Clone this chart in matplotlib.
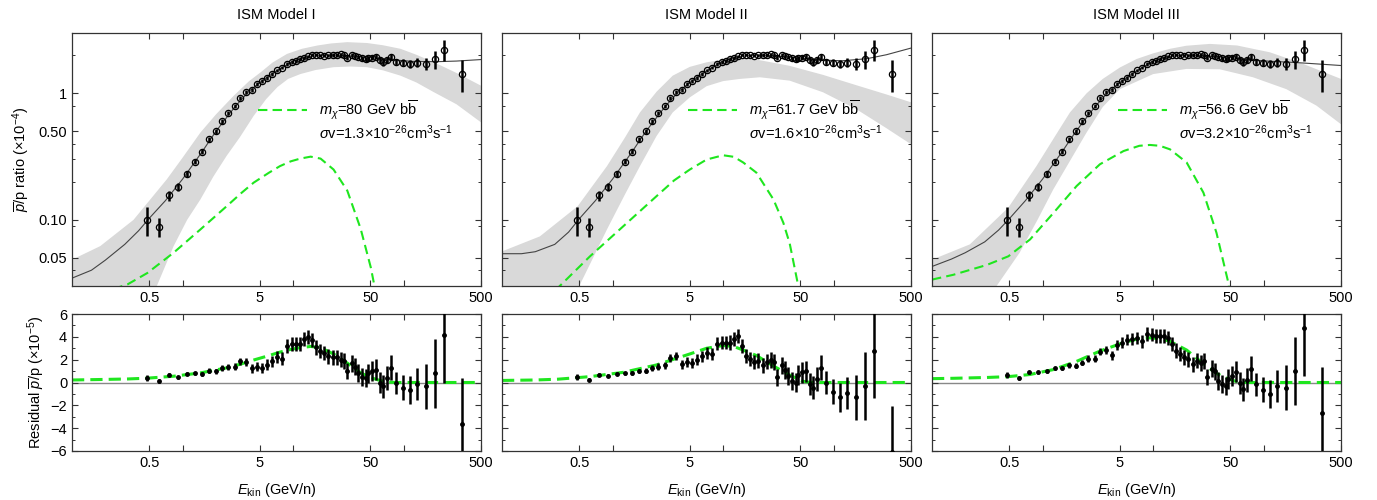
import numpy as np
import matplotlib
matplotlib.use("Agg")
import matplotlib.pyplot as plt
from matplotlib.ticker import NullFormatter, NullLocator

plt.rcParams["font.family"] = "Liberation Sans"
plt.rcParams["mathtext.fontset"] = "custom"
plt.rcParams["mathtext.rm"] = "Liberation Sans"
plt.rcParams["mathtext.it"] = "Liberation Sans:italic"
plt.rcParams["mathtext.bf"] = "Liberation Sans:bold"

# ---- measured antiproton / proton ratio (same data in all panels)
E_data = [0.48, 0.61, 0.75, 0.91, 1.09, 1.29, 1.51, 1.75, 2.0, 2.29, 2.59, 2.96, 3.33, 3.74,
          4.21, 4.74, 5.26, 5.84, 6.48, 7.18, 7.87, 8.73, 9.69, 10.6, 11.5, 12.6, 13.7, 14.9,
          16.1, 17.5, 19.1, 20.8, 22.7, 24.7, 26.9, 28.8, 30.8, 33.8, 36.2, 38.8, 41.6, 45.2,
          47.8, 51.9, 56.1, 60.9, 65.3, 71.0, 76.0, 84.4, 99.1, 114, 133, 159, 190, 231, 338]
ratio_data = [0.100, 0.088, 0.156, 0.181, 0.230, 0.289, 0.346, 0.432, 0.502, 0.60, 0.70, 0.79,
              0.925, 1.025, 1.07, 1.18, 1.25, 1.32, 1.43, 1.52, 1.60, 1.70, 1.77, 1.81, 1.86,
              1.90, 1.96, 2.02, 2.02, 2.0, 1.99, 2.0, 2.01, 2.02, 2.03, 2.01, 1.92, 2.0, 1.99,
              1.93, 1.89, 1.86, 1.90, 1.92, 1.95, 1.84, 1.76, 1.84, 1.94, 1.78, 1.75, 1.72, 1.75,
              1.72, 1.86, 2.21, 1.43]
# errors in units of 1e-5
err_data = [0.26, 0.15, 0.14, 0.13, 0.13, 0.15, 0.17, 0.2, 0.22, 0.25, 0.28, 0.3, 0.33, 0.36,
            0.4, 0.42, 0.45, 0.48, 0.5, 0.52, 0.55, 0.58, 0.6, 0.6, 0.62, 0.62, 0.62, 0.62,
            0.62, 0.64, 0.64, 0.65, 0.65, 0.66, 0.68, 0.7, 0.72, 0.75, 0.75, 0.78, 0.8, 0.82,
            0.85, 0.9, 0.92, 0.95, 1.0, 1.05, 1.1, 1.0, 1.1, 1.25, 1.4, 2.0, 3.0, 4.2, 4.0]

# residuals (x1e-5) for each ISM model
resid_1 = [0.4, 0.15, 0.7, 0.45, 0.75, 0.8, 0.75, 1.05, 1.0, 1.3, 1.35, 1.4, 1.85, 1.8, 1.25,
           1.4, 1.25, 1.55, 1.85, 2.2, 2.1, 3.2, 3.35, 3.35, 3.4, 3.8, 4.0, 3.7, 3.07, 2.77,
           2.6, 2.3, 2.2, 2.2, 2.0, 1.9, 1.0, 1.7, 1.4, 0.8, 0.5, 0.4, 0.8, 1.0, 1.1, 0.0,
           -0.35, 0.4, 1.3, -0.05, -0.45, -0.65, -0.15, -0.35, 0.8, 4.2, -3.6]
resid_2 = [0.45, 0.25, 0.7, 0.6, 0.75, 0.8, 0.8, 1.0, 1.05, 1.25, 1.4, 1.5, 2.15, 2.3, 1.6,
           1.8, 1.7, 2.0, 2.3, 2.6, 2.5, 3.4, 3.5, 3.5, 3.5, 3.8, 4.1, 3.2, 2.35, 2.05, 1.8,
           1.9, 1.5, 1.8, 1.95, 1.8, 0.45, 1.5, 1.1, 0.6, 0.15, 0.0, 0.65, 0.9, 1.0, -0.15,
           -0.45, 0.3, 1.3, 0.0, -0.8, -1.3, -0.95, -1.3, -0.3, 2.8, -6.1]
resid_3 = [0.65, 0.4, 0.9, 0.9, 1.0, 1.25, 1.25, 1.5, 1.45, 1.75, 2.1, 2.1, 2.7, 2.85, 2.4,
           3.3, 3.5, 3.75, 3.8, 3.9, 3.6, 4.25, 4.2, 4.1, 4.1, 4.1, 3.9, 3.4, 2.8, 2.5, 2.2,
           2.05, 1.6, 1.9, 1.7, 1.9, 0.5, 1.2, 1.0, 0.15, -0.15, -0.3, 0.3, 0.55, 0.95, -0.05,
           -0.6, 0.25, 1.2, -0.15, -0.65, -1.0, -0.3, -0.45, 1.0, 4.75, -2.65]

# ---- best fit total (background + DM), x1e-4
E_fit = [0.1, 0.15, 0.2, 0.3, 0.4, 0.5, 0.7, 1.0, 1.5, 2.0, 3.0, 4.0, 5.0, 7.0, 10, 15, 20,
         30, 50, 80, 120, 200, 300, 500]
fit_1 = [0.0346, 0.040, 0.048, 0.064, 0.082, 0.103, 0.142, 0.21, 0.345, 0.50, 0.79, 1.04,
         1.22, 1.50, 1.80, 1.97, 2.01, 1.99, 1.92, 1.84, 1.79, 1.78, 1.80, 1.85]
fit_2 = [0.054, 0.054, 0.056, 0.064, 0.080, 0.102, 0.142, 0.21, 0.345, 0.50, 0.79, 1.04,
         1.22, 1.50, 1.80, 1.97, 2.01, 1.98, 1.90, 1.83, 1.81, 1.88, 2.02, 2.28]
fit_3 = [0.0428, 0.049, 0.055, 0.067, 0.083, 0.102, 0.142, 0.21, 0.345, 0.50, 0.79, 1.04,
         1.22, 1.50, 1.80, 1.97, 2.01, 1.98, 1.92, 1.83, 1.79, 1.75, 1.71, 1.66]

# ---- DM contribution, x1e-4
E_dm_1 = [0.1, 0.2, 0.32, 0.48, 0.83, 1.45, 2.5, 3.4, 4.4, 6.0, 7.6, 9.5, 11.6, 14.4, 17.7,
          23.2, 30.9, 40.8, 50.4, 61, 70, 85, 500]
dm_1 = [0.022, 0.027, 0.031, 0.038, 0.055, 0.084, 0.128, 0.163, 0.197, 0.235, 0.266, 0.29,
        0.305, 0.316, 0.305, 0.25, 0.17, 0.085, 0.042, 0.018, 0.005, 0.0, 0.0]
E_dm_2 = [0.1, 0.2, 0.32, 0.625, 1.25, 2.5, 3.6, 5.0, 7.1, 10, 12.5, 15.2, 20, 28.5, 35, 40,
          47.8, 52, 60, 80, 500]
dm_2 = [0.018, 0.022, 0.029, 0.0515, 0.089, 0.154, 0.205, 0.25, 0.30, 0.324, 0.315, 0.284,
        0.236, 0.145, 0.095, 0.065, 0.03, 0.012, 0.002, 0.0, 0.0]
E_dm_3 = [0.1, 0.156, 0.313, 0.49, 0.77, 1.25, 2.03, 3.3, 5.4, 7.5, 9.35, 11.5, 14.2, 20.1,
          28.5, 37.4, 47.8, 55, 65, 80, 500]
dm_3 = [0.0337, 0.0368, 0.044, 0.0515, 0.070, 0.113, 0.185, 0.275, 0.35, 0.385, 0.391, 0.385,
        0.361, 0.284, 0.164, 0.079, 0.032, 0.012, 0.002, 0.0, 0.0]

# ---- uncertainty bands, x1e-4
E_up_1 = [0.1, 0.18, 0.36, 0.72, 1.0, 1.45, 2.0, 2.9, 4.0, 5.1, 6.5, 8.8, 12, 16.6, 22, 30.9,
          46.6, 65, 93.5, 130, 188, 300, 500]
up_1 = [0.0484, 0.062, 0.10, 0.209, 0.31, 0.49, 0.68, 0.957, 1.25, 1.47, 1.75, 2.05, 2.25,
        2.39, 2.48, 2.54, 2.5, 2.4, 2.25, 2.02, 1.76, 1.45, 1.15]
E_lo_1 = [0.1, 0.3, 0.585, 0.83, 1.1, 1.45, 1.9, 2.5, 3.3, 4.4, 5.7, 7.2, 9, 11.6, 16, 23.2,
          33, 46.6, 65, 93.5, 130, 188, 300, 500]
lo_1 = [0.005, 0.012, 0.03, 0.062, 0.1, 0.145, 0.22, 0.32, 0.45, 0.665, 0.9, 1.12, 1.3, 1.42,
        1.53, 1.61, 1.63, 1.61, 1.52, 1.38, 1.22, 1.02, 0.82, 0.59]
E_up_2 = [0.1, 0.22, 0.483, 0.89, 1.3, 1.77, 2.5, 3.5, 5, 7.1, 10, 14.1, 20, 40, 80, 160,
          300, 500]
up_2 = [0.0563, 0.074, 0.128, 0.266, 0.45, 0.707, 1.03, 1.38, 1.62, 1.76, 1.85, 1.88, 1.85,
        1.65, 1.40, 1.16, 0.98, 0.85]
E_lo_2 = [0.1, 0.3, 0.5, 0.89, 1.3, 1.77, 2.5, 3.5, 5, 7.1, 10, 14.1, 21.5, 40, 80, 160,
          300, 500]
lo_2 = [0.008, 0.018, 0.03, 0.084, 0.16, 0.266, 0.46, 0.707, 0.93, 1.14, 1.25, 1.3, 1.34,
        1.26, 1.02, 0.75, 0.53, 0.396]
E_up_3 = [0.1, 0.22, 0.49, 0.88, 1.3, 1.77, 2.5, 3.5, 5, 7.1, 10, 14.2, 20, 32.6, 57.4, 114,
          227, 500]
up_3 = [0.0484, 0.064, 0.125, 0.266, 0.46, 0.707, 1.0, 1.3, 1.6, 1.87, 2.07, 2.25, 2.38, 2.46,
        2.39, 2.11, 1.71, 1.30]
E_lo_3 = [0.1, 0.25, 0.384, 0.62, 0.9, 1.25, 2.5, 3.5, 5, 10, 20, 40, 80, 160, 300, 500]
lo_3 = [0.006, 0.018, 0.03, 0.055, 0.1, 0.174, 0.49, 0.78, 1.08, 1.42, 1.56, 1.55, 1.34, 1.08,
        0.8, 0.57]

titles = ["ISM Model I", "ISM Model II", "ISM Model III"]
masses = ["80", "61.7", "56.6"]
sigmav = ["1.3", "1.6", "3.2"]

green = "#1fe61f"
band_col = "#d9d9d9"

panels = [
    (fit_1, E_dm_1, dm_1, E_up_1, up_1, E_lo_1, lo_1, resid_1),
    (fit_2, E_dm_2, dm_2, E_up_2, up_2, E_lo_2, lo_2, resid_2),
    (fit_3, E_dm_3, dm_3, E_up_3, up_3, E_lo_3, lo_3, resid_3),
]

fig = plt.figure(figsize=(13.77, 5.0), dpi=100)
lefts = [72 / 1377, 502 / 1377, 932 / 1377]
w = 409 / 1377

err_top = np.array(err_data) / 10.0

def style_x(ax):
    ax.set_xscale("log")
    ax.set_xlim(0.1, 500)
    ax.set_xticks([0.5, 1, 5, 10, 50, 100, 500], ["0.5", "", "5", "", "50", "", "500"])
    ax.xaxis.set_minor_locator(NullLocator())
    ax.tick_params(which="both", direction="in", top=True, right=True, labelsize=10.5,
                   color="#333333")
    ax.tick_params(which="major", length=4, width=0.8)
    ax.tick_params(which="minor", length=2.5, width=0.7)
    for s in ax.spines.values():
        s.set_linewidth(0.9)
        s.set_color("#333333")

for i, (fit, E_dm, dm, E_up, up, E_lo, lo, resid) in enumerate(panels):
    # top panel
    ax = fig.add_axes([lefts[i], 1 - 286 / 500, w, 253 / 500])
    ax.set_yscale("log", nonpositive="mask")
    ax.fill(list(E_up) + list(E_lo)[::-1], list(up) + list(lo)[::-1], color=band_col, lw=0)
    ax.plot(E_fit, fit, color="#444444", lw=0.8)
    ax.plot(E_dm, dm, color=green, lw=1.5, dashes=(4.5, 2.5))
    ax.errorbar(E_data, ratio_data, yerr=err_top, fmt="o", ms=4.5, mfc="none", mec="k",
                mew=0.9, ecolor="k", elinewidth=1.8, capsize=0, zorder=5)
    style_x(ax)
    ax.set_ylim(0.03, 3.0)
    ax.set_yticks([0.05, 0.1, 0.5, 1], ["0.05", "0.10", "0.50", "1"])
    ax.set_yticks([0.04, 0.09, 0.2, 0.3, 0.4, 0.8, 2], minor=True)
    ax.yaxis.set_minor_formatter(NullFormatter())
    ax.set_title(titles[i], fontsize=10.5, pad=10)
    if i == 0:
        ax.set_ylabel(r"$\overline{p}$/p ratio (×10$^{-4}$)", fontsize=10.5, labelpad=4)
    else:
        ax.set_yticklabels([])
    # legend
    ax.plot([0.455, 0.575], [0.696, 0.696], transform=ax.transAxes, color=green, lw=1.5,
            dashes=(4.5, 2.5))
    ax.text(0.605, 0.696, r"$m_\chi$=" + masses[i] + r" GeV b$\overline{\mathrm{b}}$",
            transform=ax.transAxes, va="center", ha="left", fontsize=10.5)
    ax.text(0.605, 0.605, r"$\sigma$v=" + sigmav[i] + r"×10$^{-26}$cm$^3$s$^{-1}$",
            transform=ax.transAxes, va="center", ha="left", fontsize=10.5)

    # residual panel
    ar = fig.add_axes([lefts[i], 1 - 451 / 500, w, 137 / 500])
    ar.axhline(0, color="#888888", lw=1.0, zorder=1)
    ar.plot(E_dm, np.array(dm) * 10, color=green, lw=2.2, dashes=(4, 2), zorder=2)
    ar.errorbar(E_data, resid, yerr=err_data, fmt="o", ms=2.5, mfc="k", mec="k",
                ecolor="k", elinewidth=1.8, capsize=0, zorder=5)
    style_x(ar)
    ar.set_ylim(-6, 6)
    ar.set_yticks([-6, -4, -2, 0, 2, 4, 6])
    ar.set_yticks(np.arange(-6, 7, 1), minor=True)
    ar.set_xlabel(r"$E_{\mathrm{kin}}$ (GeV/n)", fontsize=10.5, labelpad=8)
    if i == 0:
        ar.set_ylabel(r"Residual $\overline{p}$/p (×10$^{-5}$)", fontsize=10.5, labelpad=2)
    else:
        ar.set_yticklabels([])

fig.savefig("out.png", dpi=100)
